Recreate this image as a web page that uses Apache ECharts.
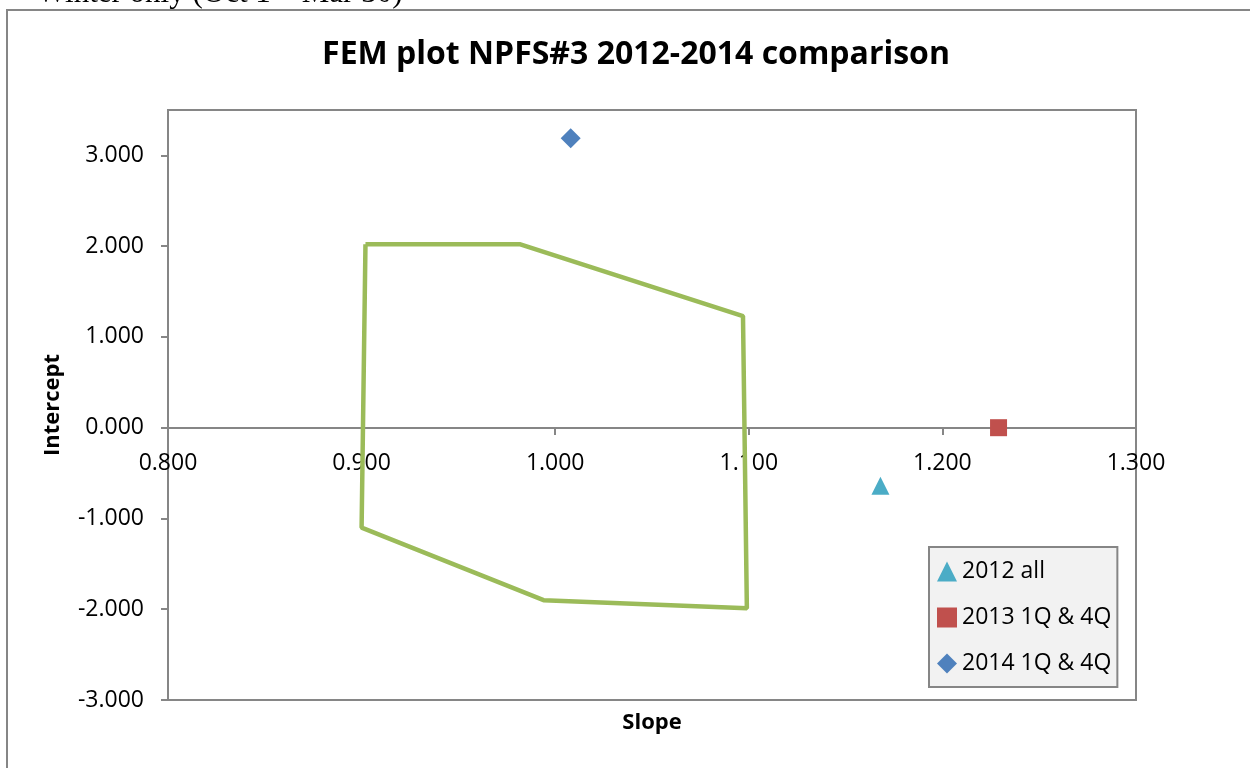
<!DOCTYPE html>
<html>
<head>
<meta charset="utf-8">
<style>
  html, body { margin: 0; padding: 0; background: #fff; }
  #container { width: 1250px; height: 768px; }
</style>
<script src="https://cdn.jsdelivr.net/npm/echarts@6/dist/echarts.min.js"></script>
</head>
<body>
<div id="container"></div>
<script>
// FEM envelope polygon (slope, intercept), closed back to the first point
var envelopeSlope = [0.902, 0.982, 1.097, 1.099, 0.994, 0.900, 0.902];
var envelopeIntercept = [2.02, 2.02, 1.23, -1.99, -1.90, -1.10, 2.02];

// measured points
var seriesNames = ['2012 all', '2013 1Q & 4Q', '2014 1Q & 4Q'];
var pointSlope = [1.168, 1.229, 1.008];
var pointIntercept = [-0.64, 0.0, 3.19];

var xTicks = [0.8, 0.9, 1.0, 1.1, 1.2, 1.3];
var yTicks = [-3, -2, -1, 0, 1, 2, 3];

var dom = document.getElementById('container');
var myChart = echarts.init(dom);

var font = '"Open Sans", "Noto Sans", sans-serif';
var symbols = ['triangle', 'rect', 'diamond'];
var symbolSizes = [18, 17, 20];
var colors = ['#4BACC6', '#C0504D', '#4F81BD'];

var envelope = envelopeSlope.map(function (s, i) {
  return [s, envelopeIntercept[i]];
});

var series = [{
  type: 'line',
  data: envelope,
  showSymbol: false,
  symbol: 'none',
  lineStyle: { color: '#9BBB59', width: 4.5 },
  silent: true,
  z: 2
}];

seriesNames.forEach(function (name, i) {
  series.push({
    name: name,
    type: 'scatter',
    data: [[pointSlope[i], pointIntercept[i]]],
    symbol: symbols[i],
    symbolSize: symbolSizes[i],
    itemStyle: { color: colors[i], opacity: 1 },
    z: 3
  });
});

var option = {
  animation: false,
  textStyle: { fontFamily: font },
  title: {
    text: 'FEM plot NPFS#3 2012-2014 comparison',
    left: 631,
    top: 34,
    textAlign: 'center',
    textStyle: { fontFamily: font, fontWeight: 'bold', fontSize: 32, color: '#000' }
  },
  graphic: [{
    type: 'rect',
    shape: { x: 7, y: 10, width: 1400, height: 900 },
    style: { fill: 'none', stroke: '#868686', lineWidth: 2 },
    silent: true
  }, {
    type: 'text',
    left: 37,
    top: -22,
    style: {
      text: 'Winter only (Oct 1 \u2013 Mar 30)',
      font: '31px "Liberation Serif", "DejaVu Serif", serif',
      fill: '#000'
    },
    silent: true
  }],
  legend: {
    orient: 'vertical',
    left: 929,
    top: 547,
    padding: [13, 6, 12, 8],
    itemWidth: 20,
    itemHeight: 20,
    itemGap: 23,
    backgroundColor: '#F2F2F2',
    borderColor: '#868686',
    borderWidth: 2,
    data: seriesNames.map(function (n, i) {
      return { name: n, icon: symbols[i] };
    }),
    textStyle: { fontFamily: font, fontSize: 23, color: '#000', lineHeight: 23 }
  },
  grid: {
    left: 168,
    top: 110,
    right: 114,
    bottom: 68,
    show: true,
    borderColor: '#868686',
    borderWidth: 2,
    containLabel: false,
    outerBoundsMode: 'none'
  },
  xAxis: {
    type: 'value',
    min: xTicks[0],
    max: xTicks[xTicks.length - 1],
    interval: 0.1,
    // axis drawn across the zero line, 272px above the plot bottom
    offset: -272,
    name: 'Slope',
    nameLocation: 'middle',
    nameGap: 284,
    nameMoveOverlap: false,
    nameTextStyle: { fontFamily: font, fontWeight: 'bold', fontSize: 22, color: '#000' },
    axisLine: { onZero: false, lineStyle: { color: '#868686', width: 2 } },
    axisTick: { show: true, length: 7, lineStyle: { color: '#868686', width: 2 } },
    axisLabel: {
      color: '#000',
      fontSize: 23,
      margin: 24,
      formatter: function (v) { return v.toFixed(3); }
    },
    splitLine: { show: false }
  },
  yAxis: {
    type: 'value',
    min: yTicks[0],
    max: 3.5,
    interval: 1,
    name: 'Intercept',
    nameLocation: 'middle',
    nameGap: 104,
    nameMoveOverlap: false,
    nameTextStyle: { fontFamily: font, fontWeight: 'bold', fontSize: 22, color: '#000' },
    axisLine: { onZero: false, lineStyle: { color: '#868686', width: 2 } },
    axisTick: { show: true, length: 7, lineStyle: { color: '#868686', width: 2 } },
    axisLabel: {
      color: '#000',
      fontSize: 23,
      margin: 24,
      showMaxLabel: false,
      formatter: function (v) { return v.toFixed(3); }
    },
    splitLine: { show: false }
  },
  series: series
};

if (option && typeof option === 'object') {
  myChart.setOption(option);
}
</script>
</body>
</html>
